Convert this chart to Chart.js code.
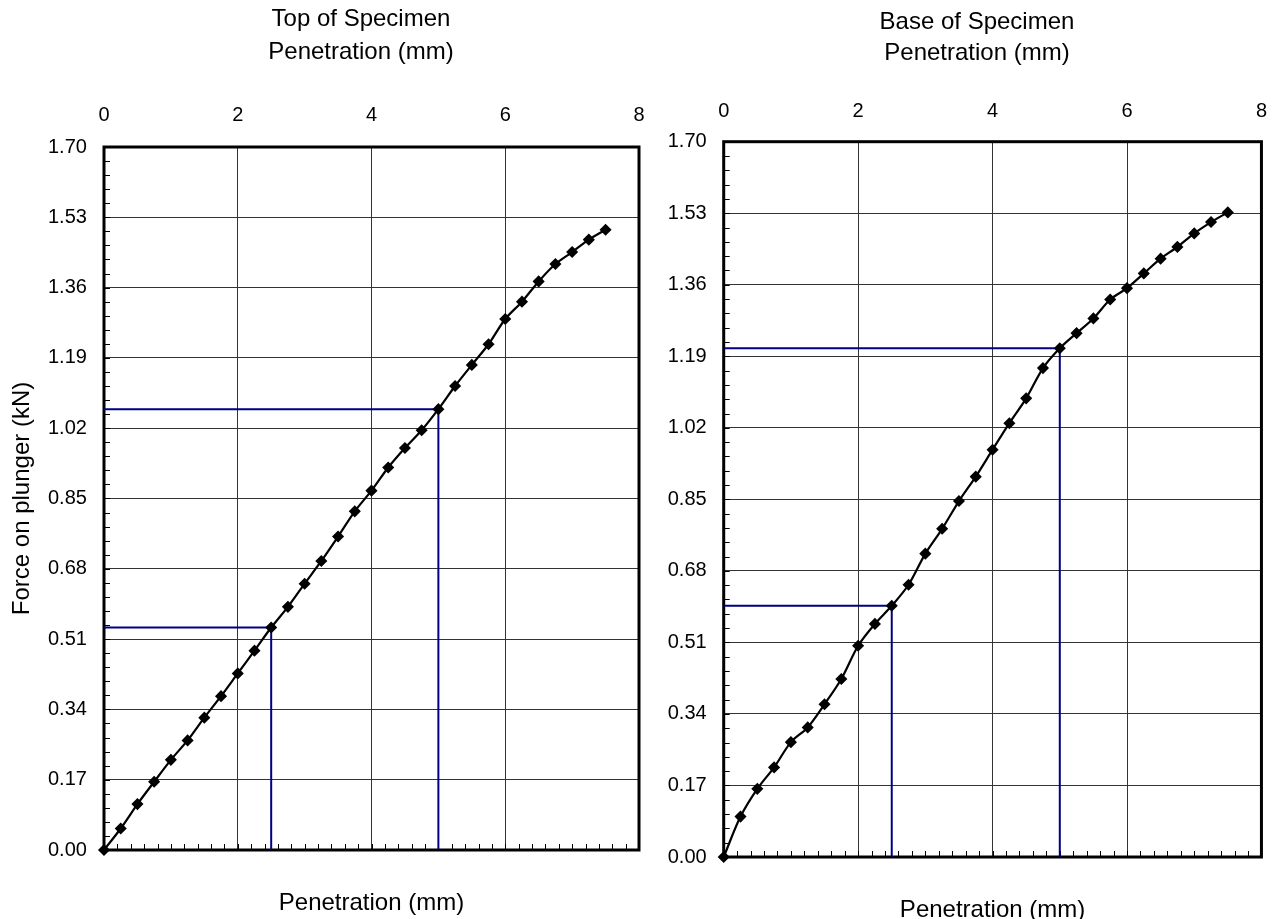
<!DOCTYPE html>
<html>
<head>
<meta charset="utf-8">
<script src="https://cdn.jsdelivr.net/npm/chart.js@4.4.1/dist/chart.umd.min.js"></script>
<style>
  body { margin: 0; background: #fff; }
  canvas { position: absolute; top: 0; }
  #topChart { left: 0; }
  #baseChart { left: 660px; }
</style>
</head>
<body>
<canvas id="topChart" width="722" height="919"></canvas>
<canvas id="baseChart" width="625" height="919"></canvas>
<script>
// penetration readings (mm), every 0.25 mm
const penetration = [0, 0.25, 0.5, 0.75, 1, 1.25, 1.5, 1.75, 2, 2.25, 2.5, 2.75, 3, 3.25, 3.5, 3.75,
  4, 4.25, 4.5, 4.75, 5, 5.25, 5.5, 5.75, 6, 6.25, 6.5, 6.75, 7, 7.25, 7.5];

// force on plunger (kN)
const topForce = [0, 0.052, 0.111, 0.165, 0.218, 0.265, 0.320, 0.372, 0.427, 0.482, 0.538, 0.588,
  0.644, 0.699, 0.758, 0.819, 0.869, 0.925, 0.972, 1.015, 1.066, 1.122, 1.173, 1.223, 1.284,
  1.326, 1.375, 1.417, 1.446, 1.476, 1.500];
const baseForce = [0, 0.096, 0.162, 0.213, 0.273, 0.308, 0.363, 0.423, 0.502, 0.554, 0.597, 0.647,
  0.721, 0.780, 0.846, 0.904, 0.968, 1.031, 1.090, 1.162, 1.209, 1.245, 1.280, 1.325, 1.352,
  1.387, 1.422, 1.450, 1.482, 1.509, 1.532];

// readings marked with blue guide lines
const refPenetration = [2.5, 5];

const xTicks = [0, 2, 4, 6, 8];
const forceTicks = [0, 0.17, 0.34, 0.51, 0.68, 0.85, 1.02, 1.19, 1.36, 1.53, 1.70];

Chart.defaults.font.family = "'Liberation Sans', Arial, sans-serif";
Chart.defaults.color = '#000';

// thick frame plus small inward minor ticks on left and bottom edges
const frame = {
  id: 'frame',
  beforeDatasetsDraw(chart) {
    const { ctx, chartArea: a, scales } = chart;
    const x = scales.x, y = scales.y;
    ctx.save();
    ctx.strokeStyle = '#000';
    ctx.lineWidth = 1;
    ctx.beginPath();
    for (let i = 0; i <= 40; i++) {
      const px = Math.round(x.getPixelForValue(i * 0.2)) + 0.5;
      ctx.moveTo(px, a.bottom);
      ctx.lineTo(px, a.bottom - 6);
    }
    for (let i = 0; i <= 50; i++) {
      const py = Math.round(y.getPixelForValue(i * 0.034)) + 0.5;
      ctx.moveTo(a.left, py);
      ctx.lineTo(a.left + 6, py);
    }
    ctx.stroke();
    ctx.lineWidth = 3;
    ctx.strokeRect(a.left, a.top, a.right - a.left, a.bottom - a.top);
    ctx.restore();
  }
};

function makeChart(id, titleLines, force, L) {
  const points = penetration.map((x, i) => ({ x, y: force[i] }));
  const guides = refPenetration.map(p => {
    const v = force[penetration.indexOf(p)];
    return {
      data: [{ x: 0, y: v }, { x: p, y: v }, { x: p, y: 0 }],
      showLine: true,
      borderColor: '#000080',
      borderWidth: 2,
      pointRadius: 0,
      tension: 0,
      order: 2
    };
  });

  return new Chart(document.getElementById(id), {
    type: 'scatter',
    data: {
      datasets: [{
        data: points,
        showLine: true,
        borderColor: '#000',
        borderWidth: 2.2,
        tension: 0.3,
        pointStyle: 'rectRot',
        pointRadius: 4.5,
        pointBackgroundColor: '#000',
        pointBorderColor: '#000',
        clip: false,
        order: 1
      }, ...guides]
    },
    options: {
      responsive: false,
      animation: false,
      layout: { padding: { left: L.padLeft, right: L.padRight, top: 0, bottom: 0 } },
      plugins: {
        legend: { display: false },
        tooltip: { enabled: false },
        title: {
          display: true,
          text: titleLines,
          color: '#000',
          font: { size: 24, weight: 'normal', lineHeight: L.titleLine + 'px' },
          padding: { top: L.titleTop, bottom: 0 }
        }
      },
      scales: {
        x: {
          type: 'linear',
          position: 'top',
          min: 0,
          max: 8,
          afterBuildTicks: s => { s.ticks = xTicks.map(value => ({ value })); },
          afterFit: s => { s.height = L.topH; },
          ticks: { font: { size: 20 }, padding: L.topTickPad, maxRotation: 0 },
          grid: { color: '#333', lineWidth: 1, drawTicks: false },
          border: { display: false }
        },
        xb: {
          type: 'linear',
          position: 'bottom',
          min: 0,
          max: 8,
          ticks: { display: false },
          grid: { display: false, drawTicks: false },
          border: { display: false },
          afterFit: s => { s.height = L.bottomH; },
          title: {
            display: true,
            text: 'Penetration (mm)',
            font: { size: 24, lineHeight: '16px' },
            padding: { top: 0, bottom: L.bottomTitlePad }
          }
        },
        y: {
          type: 'linear',
          min: 0,
          max: 1.7,
          afterBuildTicks: s => { s.ticks = forceTicks.map(value => ({ value })); },
          afterFit: s => { s.width = L.yWidth; },
          // mirrored so the labels are not clipped to the narrow axis box
          ticks: { font: { size: 20 }, mirror: true, crossAlign: 'far', padding: -56, callback: v => v.toFixed(2) },
          grid: { color: '#333', lineWidth: 1, drawTicks: false },
          border: { display: false },
          title: {
            display: !!L.yTitle,
            text: L.yTitle || '',
            font: { size: 24, lineHeight: '26px' },
            padding: { top: L.yTitlePad || 0, bottom: 0 }
          }
        }
      }
    },
    plugins: [frame]
  });
}

makeChart('topChart', ['Top of Specimen', 'Penetration (mm)'], topForce, {
  titleTop: 3, titleLine: 33, topH: 78, topTickPad: 20, bottomH: 69, bottomTitlePad: 8,
  padLeft: 83, yWidth: 21, padRight: 83, yTitle: 'Force on plunger (kN)', yTitlePad: -73.5
});

makeChart('baseChart', ['Base of Specimen', 'Penetration (mm)'], baseForce, {
  titleTop: 7, titleLine: 31, topH: 72.7, topTickPad: 18, bottomH: 62, bottomTitlePad: 1,
  padLeft: 31, yWidth: 32.7, padRight: 22
});
</script>
</body>
</html>
